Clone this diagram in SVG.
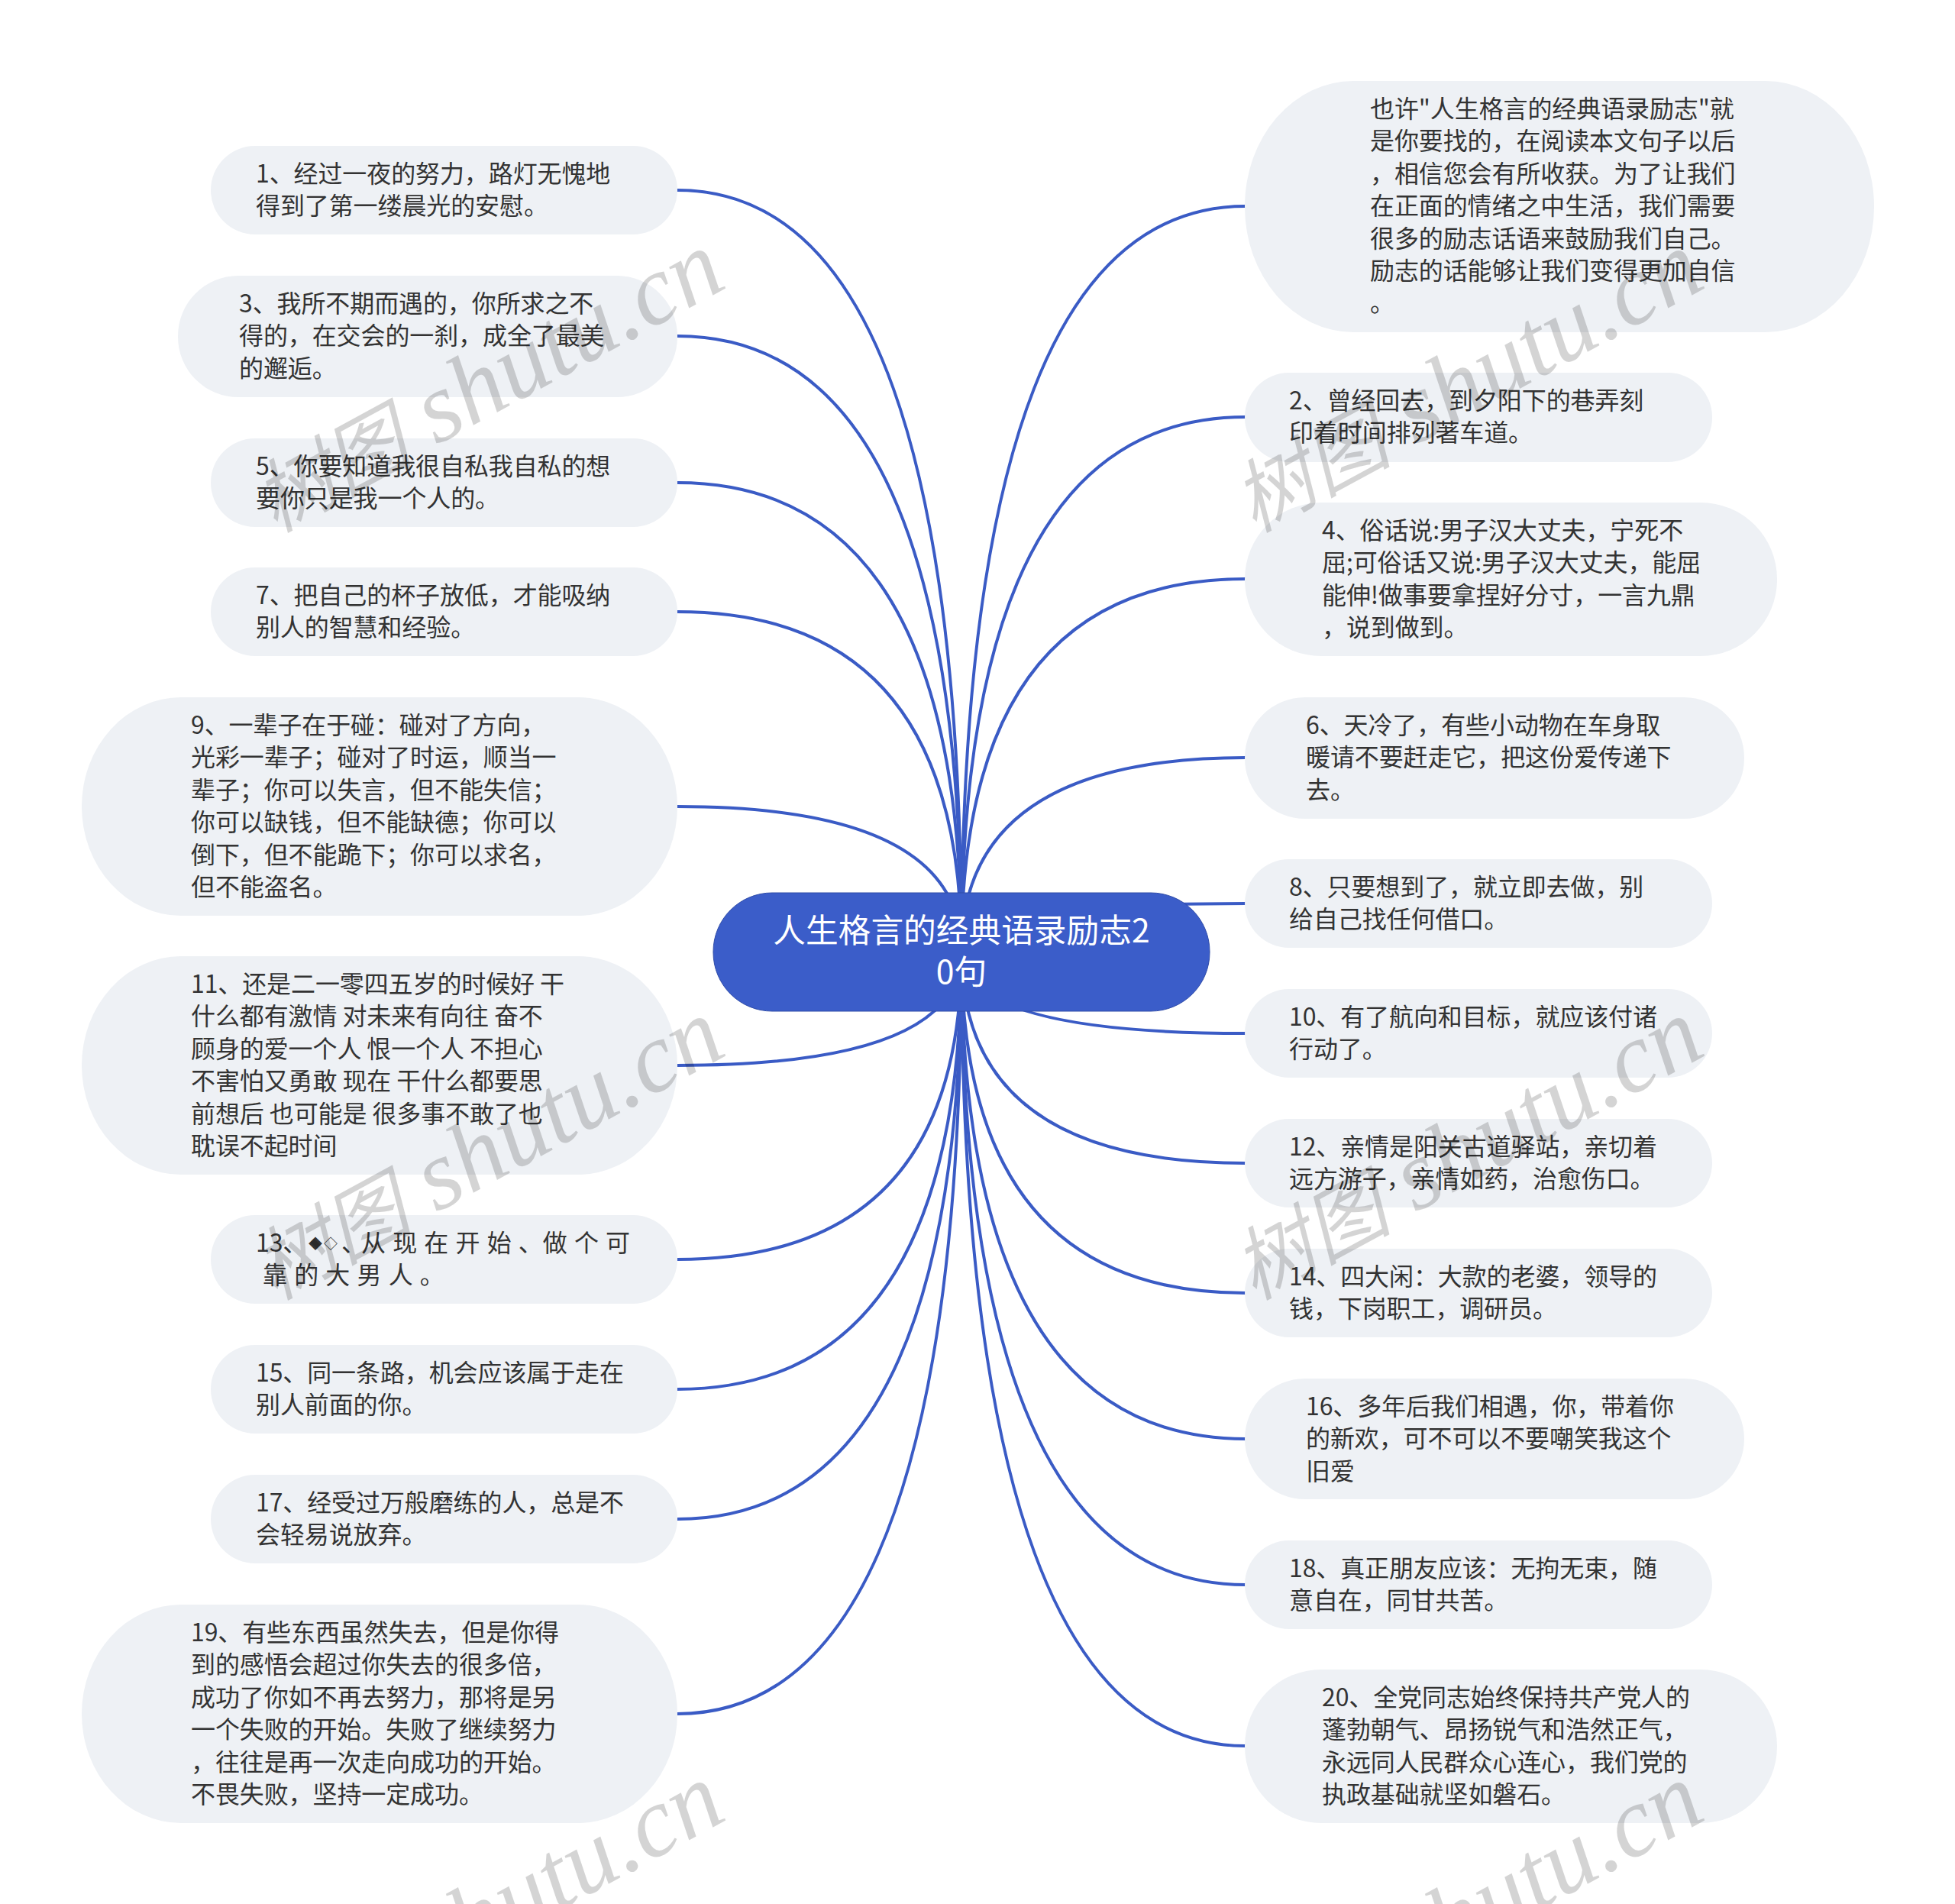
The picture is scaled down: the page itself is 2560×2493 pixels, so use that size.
<svg xmlns="http://www.w3.org/2000/svg" width="2560" height="2493" viewBox="0 0 2560 2493">
<style>
.n{fill:#eef1f5}
.t{font:32px "Noto Sans CJK SC","Noto Sans",sans-serif;fill:#333;letter-spacing:-.1px}
.c{font:42.7px "Noto Sans CJK SC","Noto Sans",sans-serif;fill:#fff;text-anchor:middle}
.l{fill:none;stroke:#3a5bc5;stroke-width:4}
.w{font:italic 130px "Liberation Serif","Noto Sans CJK SC",serif;fill:#000;fill-opacity:.17}
.w .z{font-size:104px}
</style>
<rect width="2560" height="2493" fill="#fff"/>
<g id="connectors" class="l">
<path d="M887 249Q1259 249 1259 1246"/>
<path d="M887 440Q1259 440 1259 1246"/>
<path d="M887 632Q1259 632 1259 1246"/>
<path d="M887 801Q1259 801 1259 1246"/>
<path d="M887 1056Q1259 1056 1259 1246"/>
<path d="M887 1395Q1259 1395 1259 1246"/>
<path d="M887 1649Q1259 1649 1259 1246"/>
<path d="M887 1819Q1259 1819 1259 1246"/>
<path d="M887 1989Q1259 1989 1259 1246"/>
<path d="M887 2244Q1259 2244 1259 1246"/>
<path d="M1631 270Q1259 270 1259 1246"/>
<path d="M1631 546Q1259 546 1259 1246"/>
<path d="M1631 758Q1259 758 1259 1246"/>
<path d="M1631 992Q1259 992 1259 1246"/>
<path d="M1631 1183Q1259 1183 1259 1246"/>
<path d="M1631 1353Q1259 1353 1259 1246"/>
<path d="M1631 1523Q1259 1523 1259 1246"/>
<path d="M1631 1693Q1259 1693 1259 1246"/>
<path d="M1631 1884Q1259 1884 1259 1246"/>
<path d="M1631 2075Q1259 2075 1259 1246"/>
<path d="M1631 2286Q1259 2286 1259 1246"/>
</g>
<g id="center"><rect x="934" y="1169" width="650" height="155" rx="77" fill="#3b5dc9" stroke="#2f4ca8" stroke-width="1"/>
<text class="c" y="1234"><tspan x="1259">人生格言的经典语录励志2</tspan><tspan x="1259" dy="54">0句</tspan></text></g>
<g id="n1"><rect class="n" x="276" y="191" width="611" height="116" rx="58"/><text class="t" y="239"><tspan x="335">1、经过一夜的努力，路灯无愧地</tspan><tspan x="335" dy="42.4">得到了第一缕晨光的安慰。</tspan></text></g>
<g id="n3"><rect class="n" x="233" y="361" width="654" height="159" rx="79"/><text class="t" y="409"><tspan x="313">3、我所不期而遇的，你所求之不</tspan><tspan x="313" dy="42.4">得的，在交会的一刹，成全了最美</tspan><tspan x="313" dy="42.4">的邂逅。</tspan></text></g>
<g id="n5"><rect class="n" x="276" y="574" width="611" height="116" rx="58"/><text class="t" y="622"><tspan x="335">5、你要知道我很自私我自私的想</tspan><tspan x="335" dy="42.4">要你只是我一个人的。</tspan></text></g>
<g id="n7"><rect class="n" x="276" y="743" width="611" height="116" rx="58"/><text class="t" y="791"><tspan x="335">7、把自己的杯子放低，才能吸纳</tspan><tspan x="335" dy="42.4">别人的智慧和经验。</tspan></text></g>
<g id="n9"><rect class="n" x="107" y="913" width="780" height="286" rx="130" ry="143"/><text class="t" y="961"><tspan x="250">9、一辈子在于碰：碰对了方向，</tspan><tspan x="250" dy="42.4">光彩一辈子；碰对了时运，顺当一</tspan><tspan x="250" dy="42.4">辈子；你可以失言，但不能失信；</tspan><tspan x="250" dy="42.4">你可以缺钱，但不能缺德；你可以</tspan><tspan x="250" dy="42.4">倒下，但不能跪下；你可以求名，</tspan><tspan x="250" dy="42.4">但不能盗名。</tspan></text></g>
<g id="n11"><rect class="n" x="107" y="1252" width="780" height="286" rx="130" ry="143"/><text class="t" y="1300"><tspan x="250">11、还是二一零四五岁的时候好 干</tspan><tspan x="250" dy="42.4">什么都有激情 对未来有向往 奋不</tspan><tspan x="250" dy="42.4">顾身的爱一个人 恨一个人 不担心</tspan><tspan x="250" dy="42.4">不害怕又勇敢 现在 干什么都要思</tspan><tspan x="250" dy="42.4">前想后 也可能是 很多事不敢了也</tspan><tspan x="250" dy="42.4">耽误不起时间</tspan></text></g>
<g id="n13"><rect class="n" x="276" y="1591" width="611" height="116" rx="58"/><text class="t" y="1639"><tspan x="335">13、</tspan><tspan x="404 424" dy="-4" font-size="18">◆◇</tspan><tspan x="447" dy="4">、</tspan><tspan x="473" word-spacing="2.2">从 现 在 开 始 、做 个 可</tspan><tspan x="344" dy="42.4" word-spacing="2.2">靠 的 大 男 人 。</tspan></text></g>
<g id="n15"><rect class="n" x="276" y="1761" width="611" height="116" rx="58"/><text class="t" y="1809"><tspan x="335">15、同一条路，机会应该属于走在</tspan><tspan x="335" dy="42.4">别人前面的你。</tspan></text></g>
<g id="n17"><rect class="n" x="276" y="1931" width="611" height="116" rx="58"/><text class="t" y="1979"><tspan x="335">17、经受过万般磨练的人，总是不</tspan><tspan x="335" dy="42.4">会轻易说放弃。</tspan></text></g>
<g id="n19"><rect class="n" x="107" y="2101" width="780" height="286" rx="130" ry="143"/><text class="t" y="2149"><tspan x="250">19、有些东西虽然失去，但是你得</tspan><tspan x="250" dy="42.4">到的感悟会超过你失去的很多倍，</tspan><tspan x="250" dy="42.4">成功了你如不再去努力，那将是另</tspan><tspan x="250" dy="42.4">一个失败的开始。失败了继续努力</tspan><tspan x="250" dy="42.4">，往往是再一次走向成功的开始。</tspan><tspan x="250" dy="42.4">不畏失败，坚持一定成功。</tspan></text></g>
<g id="n0"><rect class="n" x="1630" y="106" width="824" height="329" rx="142" ry="164"/><text class="t" y="154"><tspan x="1794">也许"人生格言的经典语录励志"就</tspan><tspan x="1794" dy="42.4">是你要找的，在阅读本文句子以后</tspan><tspan x="1794" dy="42.4">，相信您会有所收获。为了让我们</tspan><tspan x="1794" dy="42.4">在正面的情绪之中生活，我们需要</tspan><tspan x="1794" dy="42.4">很多的励志话语来鼓励我们自己。</tspan><tspan x="1794" dy="42.4">励志的话能够让我们变得更加自信</tspan><tspan x="1794" dy="42.4">。</tspan></text></g>
<g id="n2"><rect class="n" x="1630" y="488" width="612" height="117" rx="58"/><text class="t" y="535.500"><tspan x="1688">2、曾经回去，到夕阳下的巷弄刻</tspan><tspan x="1688" dy="42.4">印着时间排列著车道。</tspan></text></g>
<g id="n4"><rect class="n" x="1630" y="658" width="697" height="201" rx="100"/><text class="t" y="706"><tspan x="1731">4、俗话说:男子汉大丈夫，宁死不</tspan><tspan x="1731" dy="42.4">屈;可俗话又说:男子汉大丈夫，能屈</tspan><tspan x="1731" dy="42.4">能伸!做事要拿捏好分寸，一言九鼎</tspan><tspan x="1731" dy="42.4">，说到做到。</tspan></text></g>
<g id="n6"><rect class="n" x="1630" y="913" width="654" height="159" rx="79"/><text class="t" y="961"><tspan x="1710">6、天冷了，有些小动物在车身取</tspan><tspan x="1710" dy="42.4">暖请不要赶走它，把这份爱传递下</tspan><tspan x="1710" dy="42.4">去。</tspan></text></g>
<g id="n8"><rect class="n" x="1630" y="1125" width="612" height="116" rx="58"/><text class="t" y="1173"><tspan x="1688">8、只要想到了，就立即去做，别</tspan><tspan x="1688" dy="42.4">给自己找任何借口。</tspan></text></g>
<g id="n10"><rect class="n" x="1630" y="1295" width="612" height="116" rx="58"/><text class="t" y="1343"><tspan x="1688">10、有了航向和目标，就应该付诸</tspan><tspan x="1688" dy="42.4">行动了。</tspan></text></g>
<g id="n12"><rect class="n" x="1630" y="1465" width="612" height="116" rx="58"/><text class="t" y="1513"><tspan x="1688">12、亲情是阳关古道驿站，亲切着</tspan><tspan x="1688" dy="42.4">远方游子，亲情如药，治愈伤口。</tspan></text></g>
<g id="n14"><rect class="n" x="1630" y="1635" width="612" height="116" rx="58"/><text class="t" y="1683"><tspan x="1688">14、四大闲：大款的老婆，领导的</tspan><tspan x="1688" dy="42.4">钱，下岗职工，调研员。</tspan></text></g>
<g id="n16"><rect class="n" x="1630" y="1805" width="654" height="158" rx="79"/><text class="t" y="1853"><tspan x="1710">16、多年后我们相遇，你，带着你</tspan><tspan x="1710" dy="42.4">的新欢，可不可以不要嘲笑我这个</tspan><tspan x="1710" dy="42.4">旧爱</tspan></text></g>
<g id="n18"><rect class="n" x="1630" y="2017" width="612" height="116" rx="58"/><text class="t" y="2065"><tspan x="1688">18、真正朋友应该：无拘无束，随</tspan><tspan x="1688" dy="42.4">意自在，同甘共苦。</tspan></text></g>
<g id="n20"><rect class="n" x="1630" y="2186" width="697" height="201" rx="100"/><text class="t" y="2234"><tspan x="1731">20、全党同志始终保持共产党人的</tspan><tspan x="1731" dy="42.4">蓬勃朝气、昂扬锐气和浩然正气，</tspan><tspan x="1731" dy="42.4">永远同人民群众心连心，我们党的</tspan><tspan x="1731" dy="42.4">执政基础就坚如磐石。</tspan></text></g>
<g id="watermarks" class="w">
<text transform="translate(360 698) rotate(-28.500)"><tspan class="z">树图</tspan> shutu.cn</text>
<text transform="translate(1642 698) rotate(-28.500)"><tspan class="z">树图</tspan> shutu.cn</text>
<text transform="translate(360 1703) rotate(-28.500)"><tspan class="z">树图</tspan> shutu.cn</text>
<text transform="translate(1642 1703) rotate(-28.500)"><tspan class="z">树图</tspan> shutu.cn</text>
<text transform="translate(360 2704) rotate(-28.500)"><tspan class="z">树图</tspan> shutu.cn</text>
<text transform="translate(1642 2704) rotate(-28.500)"><tspan class="z">树图</tspan> shutu.cn</text>
</g>
</svg>
